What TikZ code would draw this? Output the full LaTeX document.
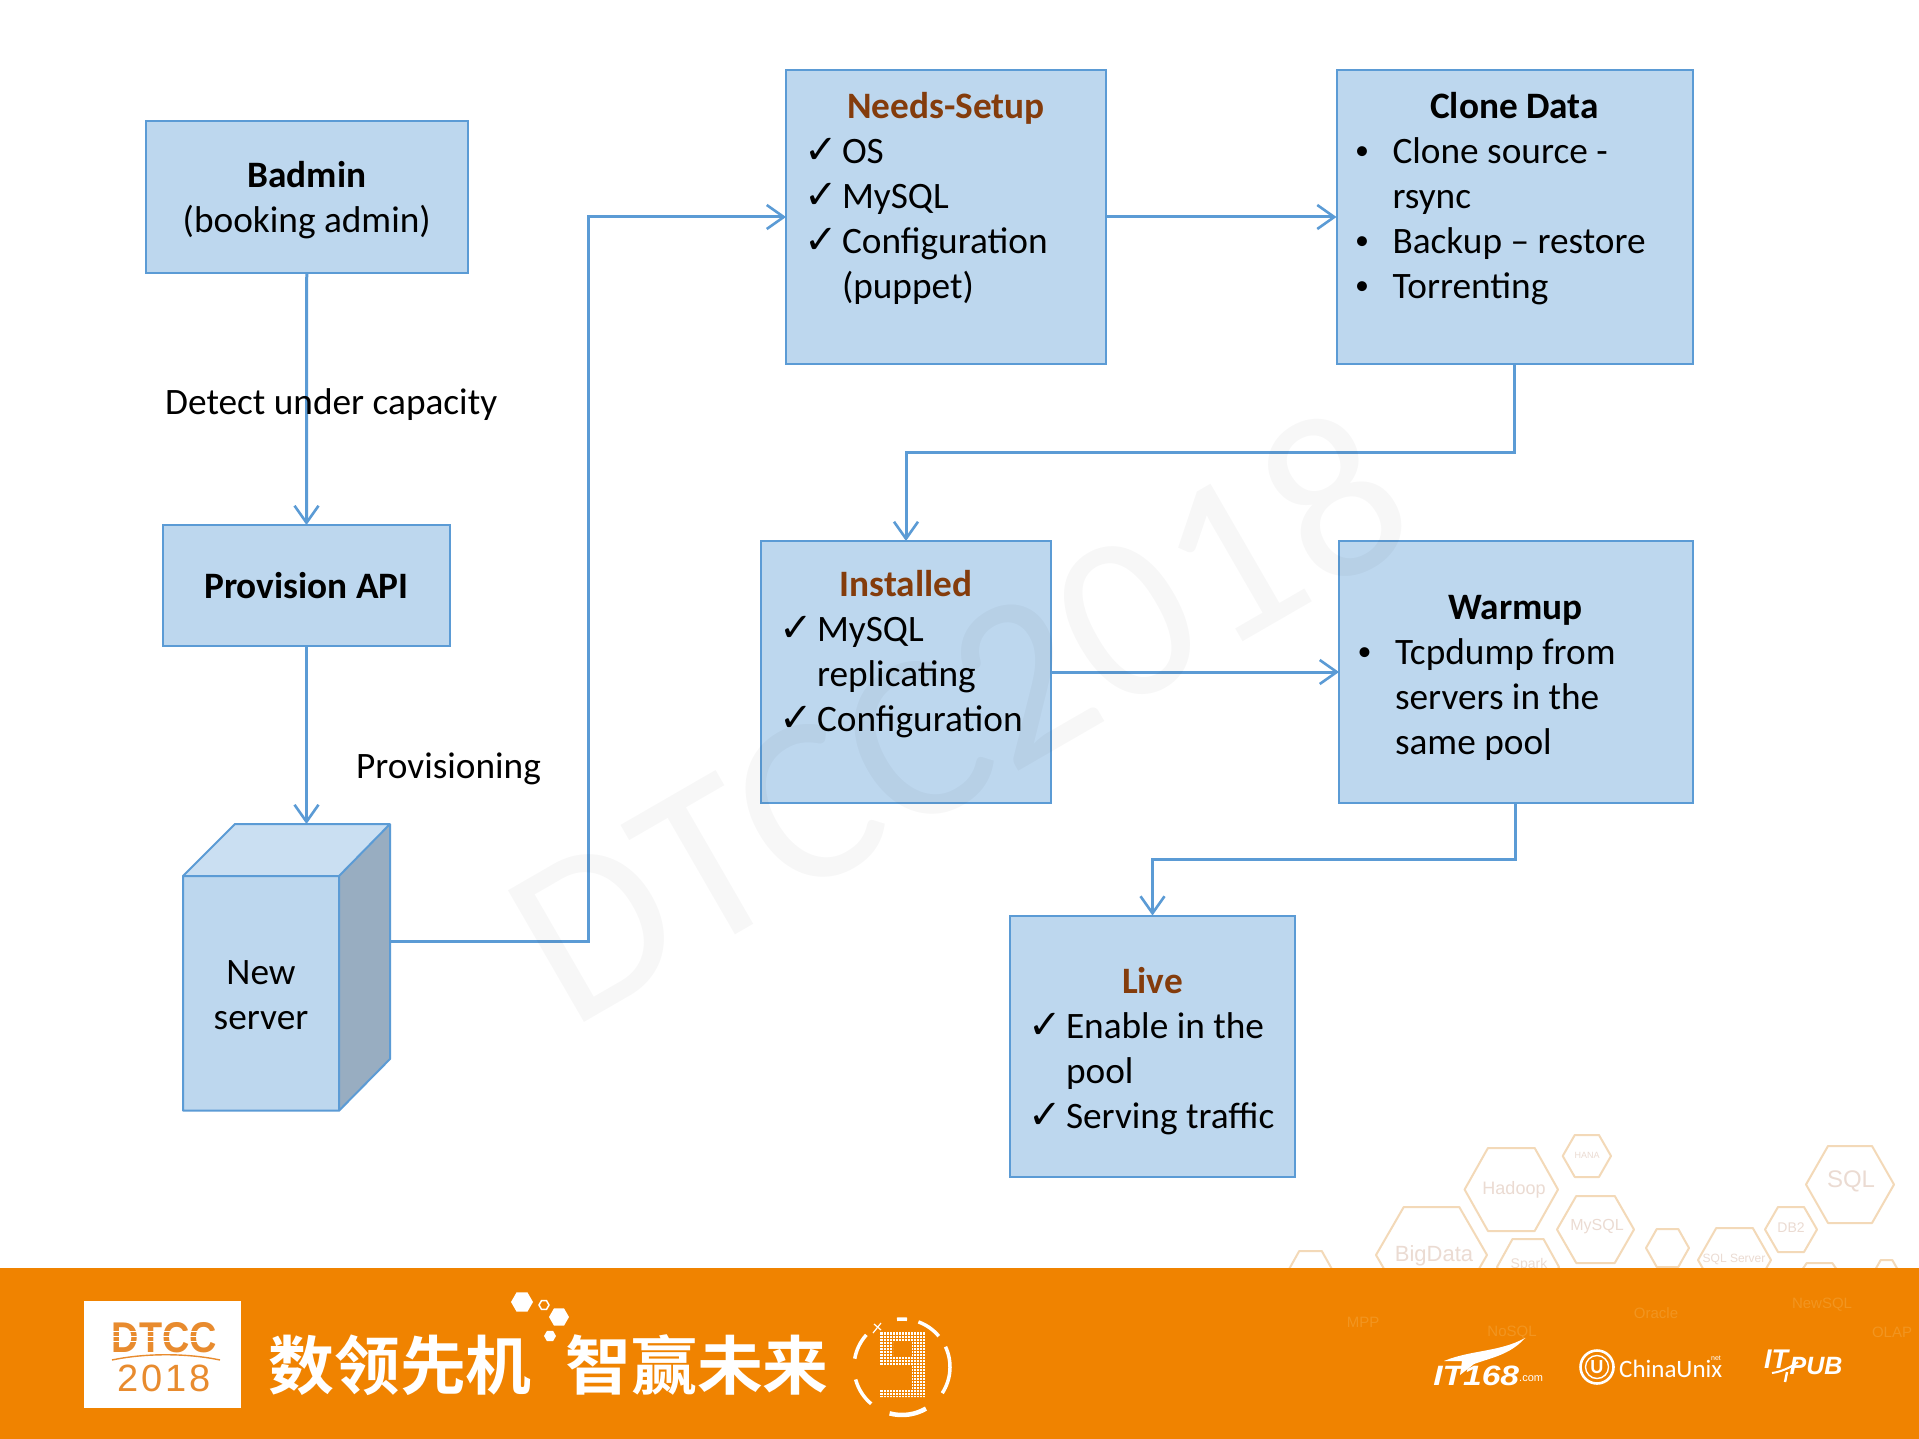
\documentclass[tikz,border=0pt]{standalone}
\usepackage{fontspec}
\setmainfont{Carlito}
\newfontfamily\tickfont{DejaVu Sans}
\newfontfamily\cjkf[BoldFont=Noto Sans CJK SC Bold]{Noto Sans CJK SC}
\newfontfamily\helvf{Liberation Sans}
\usetikzlibrary{arrows.meta}
\definecolor{boxfill}{HTML}{BDD7EE}
\definecolor{boxline}{HTML}{5B9BD5}
\definecolor{titlebrown}{HTML}{843C0C}
\definecolor{bandorange}{HTML}{F08300}
\definecolor{logoorange}{HTML}{E88B2E}
\definecolor{hexline}{HTML}{F3D9B8}
\definecolor{hextext}{HTML}{EBDBD2}
\definecolor{fadetext}{HTML}{F29520}
\definecolor{cubetop}{HTML}{CADFF2}
\definecolor{cubeside}{HTML}{98ADC1}
\tikzset{
  every node/.style={font=\fontsize{37.3}{45}\selectfont, text=black},
  boxs/.style={draw=boxline, fill=boxfill, line width=2pt, inner sep=0pt, outer sep=0pt},
  conn/.style={draw=boxline, line width=3pt, -{Straight Barb[length=17pt,width=24pt,line width=2.6pt]}},
  hexl/.style={draw=hexline, line width=2pt, line join=round},
  hexa text/.style={text=hextext, inner sep=0pt},
  fade/.style={text=fadetext, inner sep=0pt, font=\helvf\fontsize{15}{15}\selectfont},
  white logo/.style={text=white, inner sep=0pt},
}
\newcommand\hexa[4]{%
  \pgfmathsetmacro\hxa{#1+(#2-#1)/4}%
  \pgfmathsetmacro\hxb{#2-(#2-#1)/4}%
  \pgfmathsetmacro\hym{(#3+#4)/2}%
  \draw[hexl] (#1,\hym)--(\hxa,#3)--(\hxb,#3)--(#2,\hym)--(\hxb,#4)--(\hxa,#4)--cycle;}
\newcommand\hexfig[4]{%
  \pgfmathsetmacro\hxl{#2-#4}\pgfmathsetmacro\hxr{#2+#4}%
  \pgfmathsetmacro\hxa{#2-#4/2}\pgfmathsetmacro\hxb{#2+#4/2}%
  \pgfmathsetmacro\hyt{#3-#4*0.866}\pgfmathsetmacro\hyb{#3+#4*0.866}%
  \path[#1] (\hxl,#3)--(\hxa,\hyt)--(\hxb,\hyt)--(\hxr,#3)--(\hxb,\hyb)--(\hxa,\hyb)--cycle;}
% box body: width, height, top pad, contents
\newcommand\bodytext[4]{\begin{minipage}[c][#2pt][t]{#1pt}\vspace*{#3pt}\setlength{\parindent}{0pt}\setlength{\parskip}{0pt}#4\end{minipage}}
\newcommand\ttl[2]{\makebox[\linewidth][c]{\bfseries\color{#1}#2}\par}
\newcommand\chk[1]{\hspace*{18pt}\makebox[38pt][l]{\smash{\tickfont\fontsize{40}{45}\selectfont ✓}}#1\par}
\newcommand\bul[1]{\hspace*{18.5pt}\makebox[37.5pt][l]{\raisebox{4pt}{\fontsize{28}{45}\selectfont •}}#1\par}
\newcommand\cont[1]{\hspace*{56pt}#1\par}
\begin{document}
\begin{tikzpicture}[x=1pt,y=-1pt]
\useasboundingbox (0,0) rectangle (1919,1439);
\fill[white] (0,0) rectangle (1919,1439);

% hexagon decoration
\hexa{1464.6}{1558}{1148}{1231}
\hexa{1562.7}{1611}{1135}{1177}
\hexa{1806}{1894}{1146}{1223}
\hexa{1557}{1634}{1196}{1263}
\hexa{1765}{1817}{1207}{1252}
\hexa{1376}{1487}{1207}{1303}
\hexa{1497}{1559}{1239}{1295}
\hexa{1646}{1689}{1229}{1267}
\hexa{1698}{1771}{1228}{1292}
\hexa{1288}{1333}{1251}{1291}
\hexa{1794}{1845}{1263}{1300}
\hexa{1875}{1898}{1260}{1280}
\node[hexa text, font=\helvf\fontsize{18}{18}\selectfont] (hHadoop) at (1514,1189.5) {Hadoop};
\node[hexa text, font=\helvf\fontsize{9}{9}\selectfont] (hHana) at (1587,1155) {HANA};
\node[hexa text, font=\helvf\fontsize{24}{24}\selectfont] (hSql) at (1851,1181.5) {SQL};
\node[hexa text, font=\helvf\fontsize{16}{16}\selectfont] (hMysql) at (1597,1227) {MySQL};
\node[hexa text, font=\helvf\fontsize{14}{14}\selectfont] (hDb) at (1791,1228) {DB2};
\node[hexa text, font=\helvf\fontsize{22}{22}\selectfont] (hBig) at (1434,1255.5) {BigData};
\node[hexa text, font=\helvf\fontsize{14}{14}\selectfont] (hSpark) at (1529,1265) {Spark};
\node[hexa text, font=\helvf\fontsize{12}{12}\selectfont] (hSqls) at (1734,1259) {SQL Server};

% band
\fill[bandorange] (0,1268) rectangle (1919,1439);
\node[fade] (fMpp) at (1363,1322) {MPP};
\node[fade] (fNo) at (1512,1333) {NoSQL};
\node[fade] (fOr) at (1656,1313) {Oracle};
\node[fade] (fNew) at (1822,1305) {NewSQL};
\node[fade] (fOl) at (1892,1332) {OLAP};

% DTCC logo
\fill[white] (84,1301) rectangle (241,1408);
\node[inner sep=0pt, text=logoorange, xscale=.88, font=\helvf\bfseries\fontsize{43}{43}\selectfont] (dtcc) at (164.5,1337.5) {DTCC};
\foreach \yy in {1331,1336,1341}{\draw[white, line width=1pt] (110,\yy) -- (220,\yy);}
\draw[logoorange, line width=1.4pt] (112,1360) .. controls (145,1353) and (187,1353) .. (220,1360);
\node[inner sep=0pt, text=logoorange, font=\helvf\fontsize{38}{38}\selectfont\addfontfeature{LetterSpace=8}] (y2018) at (164,1378) {2018};

% slogan
\node[white logo, xscale=1.03, font=\cjkf\bfseries\fontsize{64}{64}\selectfont] (slogA) at (400,1365) {数领先机};
\node[white logo, xscale=1.03, font=\cjkf\bfseries\fontsize{64}{64}\selectfont] (slogB) at (697,1365) {智赢未来};
\hexfig{fill=white}{522}{1302}{11}
\hexfig{draw=white, line width=1.5pt}{544}{1305}{5}
\hexfig{fill=white}{559}{1317}{10}
\hexfig{fill=white}{550}{1336}{6}

% ring with the 9
\begin{scope}[white, line width=3.5pt]
\draw (902,1367) ++(-96:48) arc (-96:-84:48);
\draw (902,1367) ++(-70:48) arc (-70:-40:48);
\draw (902,1367) ++(-25:48) arc (-25:33:48);
\draw[line width=4.5pt] (902,1367) ++(60:48) arc (60:105:48);
\draw (902,1367) ++(130:48) arc (130:165:48);
\draw (902,1367) ++(190:48) arc (190:222:48);
\end{scope}
\fill[white] (880,1332) rectangle (925,1341) (880,1341) rectangle (893,1365) (912,1341) rectangle (925,1397)
 (880,1357) rectangle (925,1365) (880,1389) rectangle (925,1397);
\foreach \gx in {883,886,...,925}{\draw[bandorange,line width=.7pt] (\gx,1331) -- (\gx,1398);}
\foreach \gy in {1335,1338,...,1397}{\draw[bandorange,line width=.7pt] (879,\gy) -- (926,\gy);}
\draw[white, line width=1.2pt] (873,1333) -- (881,1323) (874,1324) -- (881,1330);

% partner logos
\node[white logo, xscale=1.2, anchor=south west, font=\helvf\bfseries\itshape\fontsize{28}{28}\selectfont] (it168) at (1433,1386) {IT168};
\node[white logo, anchor=south west, font=\helvf\fontsize{11}{11}\selectfont] (itcom) at (1519,1382) {.com};
\fill[white] (1444,1361) .. controls (1470,1350) and (1500,1352) .. (1525,1338) .. controls (1510,1355) and (1490,1358) .. (1474,1364) -- (1460,1375) -- (1462,1361) -- cycle;
\draw[white, line width=2.6pt] (1597,1367) circle (16.5);
\draw[white, line width=1.4pt] (1597,1367) circle (11.5);
\node[white logo, font=\bfseries\fontsize{20}{20}\selectfont] (uni) at (1597,1367) {U};
\node[white logo, anchor=west, font=\fontsize{25}{25}\selectfont] (cu) at (1619,1369) {ChinaUnix};
\node[white logo, font=\helvf\fontsize{7}{7}\selectfont] (cunet) at (1716,1358) {net};
\node[white logo, font=\helvf\bfseries\itshape\fontsize{27}{27}\selectfont] (itp) at (1776,1359) {IT};
\node[white logo, font=\helvf\bfseries\itshape\fontsize{25}{25}\selectfont] (pub) at (1816,1366) {PUB};
\draw[white, line width=2pt] (1772,1373) .. controls (1780,1372) and (1790,1368) .. (1798,1362);
\draw[white, line width=2.4pt] (1787,1372) -- (1785,1382);

% boxes
\node[boxs, minimum width=321.5pt, minimum height=152pt] (badmin) at (306.75,197) {\bodytext{321.5}{152}{40}{\ttl{black}{Badmin}\makebox[\linewidth][c]{(booking admin)}\par}};
\node[boxs, minimum width=287pt, minimum height=121pt] (prov) at (306.5,585.5) {\textbf{Provision API}};
\node[boxs, minimum width=320pt, minimum height=294pt] (needs) at (946,217) {\bodytext{320}{294}{22.5}{\ttl{titlebrown}{Needs-Setup}\chk{OS}\chk{MySQL}\chk{Configuration}\cont{(puppet)}}};
\node[boxs, minimum width=356pt, minimum height=294pt] (clone) at (1514.5,217) {\bodytext{356}{294}{22.5}{\ttl{black}{Clone Data}\bul{Clone source -}\cont{rsync}\bul{Backup – restore}\bul{Torrenting}}};
\node[boxs, minimum width=290pt, minimum height=262pt] (inst) at (906,672) {\bodytext{290}{262}{29.5}{\ttl{titlebrown}{Installed}\chk{MySQL}\cont{replicating}\chk{Configuration}}};
\node[boxs, minimum width=353.5pt, minimum height=262pt] (warm) at (1515.75,672) {\bodytext{353.5}{262}{54}{\ttl{black}{Warmup}\bul{Tcpdump from}\cont{servers in the}\cont{same pool}}};
\node[boxs, minimum width=285pt, minimum height=261.5pt] (live) at (1152.5,1046.25) {\bodytext{285}{261.5}{52}{\ttl{titlebrown}{Live}\chk{Enable in the}\cont{pool}\chk{Serving traffic}}};

% cube
\fill[cubetop] (183,876) -- (235,824) -- (390,824) -- (339,876) -- cycle;
\fill[cubeside] (339,876) -- (390,824) -- (390,1059) -- (339,1110.7) -- cycle;
\fill[boxfill] (183,876) rectangle (339,1110.7);
\draw[boxline, line width=2pt, line join=round] (183,876) -- (235,824) -- (390,824) -- (390,1059) -- (339,1110.7) -- (183,1110.7) -- cycle (183,876) -- (339,876) -- (339,1110.7) (339,876) -- (390,824);
\node[inner sep=0pt, align=center] (srv) at (261,995) {New\\server};
\coordinate (cubeTop) at (306.5,824);
\coordinate (cubeRight) at (390,941.7);

% connectors
\draw[conn] (badmin.south) -- (prov.north);
\draw[conn] (prov.south) -- (cubeTop);
\draw[conn] (cubeRight) -- (588,941.7) -- (588,217) -- (needs.west);
\draw[conn] (needs.east) -- (clone.west);
\draw[conn] (clone.south) -- (1514.5,452.6) -- (906,452.6) -- (inst.north);
\draw[conn] (inst.east) -- (warm.west);
\draw[conn] (warm.south) -- (1515.75,859) -- (1152.5,859) -- (live.north);

% labels
\node[inner sep=0pt, anchor=west] (lab1) at (165,404.5) {Detect under capacity};
\node[inner sep=0pt, anchor=west] (lab2) at (356,768.5) {Provisioning};

% watermark
\node[inner sep=0pt, rotate=30, opacity=.03, text=black, font=\fontsize{237}{237}\selectfont] (wm) at (958,714) {DTCC2018};
\end{tikzpicture}
\end{document}
